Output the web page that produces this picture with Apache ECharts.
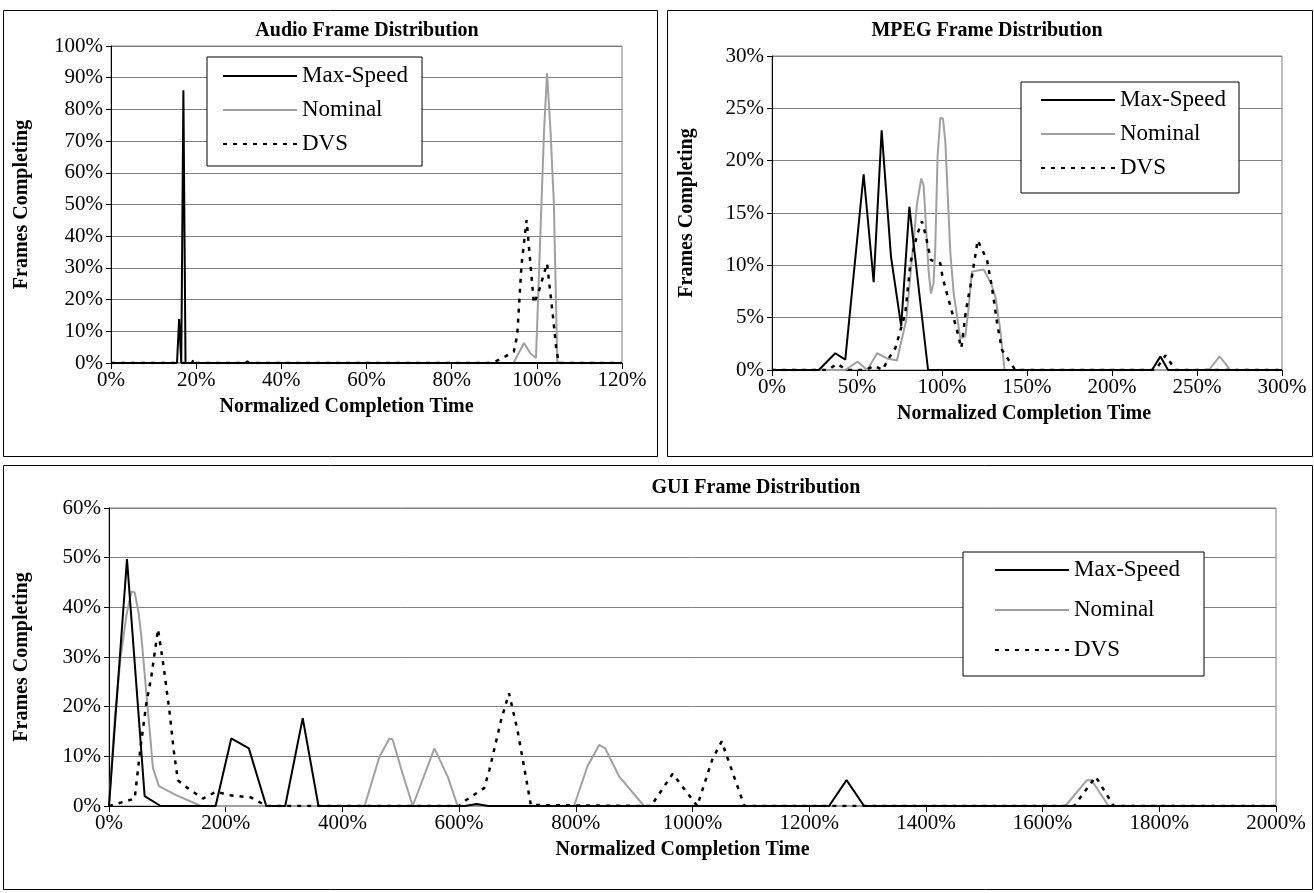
<!DOCTYPE html>
<html>
<head>
<meta charset="utf-8">
<script src="https://cdn.jsdelivr.net/npm/echarts@6/dist/echarts.min.js"></script>
<style>
  body { margin: 0; background: #fff; }
  #main { width: 1314px; height: 893px; }
</style>
</head>
<body>
<div id="main"></div>
<script>
// Audio (x = normalized completion time %, y = frames completing %)
var audioMaxX = [0, 15.5, 16, 16.5, 17, 17.5, 31.5, 32, 32.5, 120];
var audioMaxY = [0, 0, 13.9, 0, 86, 0, 0, 0.5, 0, 0];
var audioNomX = [0, 94.5, 97, 98.5, 99.8, 101.7, 102.4, 103.2, 104, 104.8, 105.5, 120];
var audioNomY = [0, 0, 6.3, 3, 1.6, 73.5, 91.4, 73.5, 50.4, 0.5, 0, 0];
var audioDvsX = [0, 19, 19.5, 20, 89.5, 92.5, 94.6, 95.4, 96.4, 97.6, 99.3, 100.3, 102.4, 103.8, 104.6, 105.2, 120];
var audioDvsY = [0, 0, 1.3, 0, 0, 2, 3.6, 8.8, 31, 45.1, 18.8, 21.9, 31.4, 14.6, 4, 0, 0];

// MPEG
var mpegMaxX = [0, 27.5, 37.2, 43.1, 53.9, 59.8, 64.5, 70, 76, 80.8, 91.8, 223.5, 228.5, 233, 300];
var mpegMaxY = [0, 0, 1.6, 1, 18.7, 8.4, 22.9, 10.8, 4.2, 15.6, 0, 0, 1.3, 0, 0];
var mpegNomX = [0, 43, 50.4, 56, 61.8, 67.7, 73.5, 79, 85.3, 87.8, 89.2, 92.1, 93.5, 95, 96, 97.4, 99, 100.6, 102,
  104.9, 106.9, 110.8, 113.7, 115.7, 117.6, 124.5, 128.8, 131.4, 134.3, 136.8, 257, 263.3, 269.6, 300];
var mpegNomY = [0, 0, 0.8, 0, 1.6, 1.1, 0.9, 4.8, 15.9, 18.3, 17.6, 9.5, 7.3, 8.3, 11.4, 20.4, 24.1, 24, 21.7,
  11.2, 7.3, 3, 3.2, 6, 9.4, 9.6, 8.3, 7, 3.8, 0, 0, 1.3, 0, 0];
var mpegDvsX = [0, 33, 38.2, 44, 55, 60, 65, 68.6, 72.6, 74.5, 78.4, 81.4, 85.3, 88.2, 90.2, 93.5, 99, 100.4,
  108.8, 111.4, 114, 117, 121, 126.5, 129.4, 132.4, 135.3, 143.1, 225.5, 231.5, 237.3, 300];
var mpegDvsY = [0, 0, 0.6, 0, 0, 0.4, 0, 1.1, 2.1, 3.2, 5.4, 10.2, 12.9, 14.2, 13, 10.5, 10.2, 8.8,
  3.8, 2.1, 5.6, 8.3, 12.4, 10.5, 7.9, 4.5, 1.9, 0, 0, 1.4, 0, 0];

// GUI
var guiMaxX = [0, 30.8, 61.1, 88.5, 182.7, 209.5, 239.7, 269.5, 302, 332, 359, 610, 630, 650, 1234, 1264, 1294, 2000];
var guiMaxY = [0, 49.7, 2, 0, 0, 13.6, 11.6, 0, 0, 17.7, 0, 0, 0.4, 0, 0, 5.2, 0, 0];
var guiNomX = [0, 10, 20, 30, 38.4, 44, 50.9, 55.5, 64, 69.7, 75.3, 85.6, 115, 158, 438, 463.5, 480.6, 486, 503, 520.5,
  557.7, 580.5, 597.6, 797, 820, 840, 850.5, 874.5, 917, 1639, 1676, 1684, 1713, 2000];
var guiNomY = [0, 18, 30, 38.5, 43.2, 43, 38.8, 34.1, 22.7, 15.3, 7.6, 4, 2.2, 0, 0, 9.9, 13.6, 13.4, 6.6, 0,
  11.6, 5.9, 0, 0, 8, 12.3, 11.6, 5.9, 0, 0, 5.2, 5.2, 0, 0];
var guiDvsX = [0, 21, 44, 53.8, 64, 72.6, 84, 93.7, 104, 110.8, 118, 132.5, 161, 184, 204, 244, 269.5, 600, 612, 643,
  652, 672, 685.5, 700, 723, 929, 966, 1008, 1034, 1050, 1089, 1654, 1691, 1722, 2000];
var guiDvsY = [0, 0.7, 1.5, 11.6, 20.7, 26.1, 35.6, 28, 18.7, 11.3, 5.2, 3.8, 1.5, 2.9, 2.2, 1.7, 0, 0, 1.2, 3.6,
  7.3, 17.3, 22.7, 15.3, 0.2, 0, 6.5, 0, 9.4, 13, 0, 0, 5.9, 0, 0];

var seriesNames = ["Max-Speed", "Nominal", "DVS"];
var titles = ["Audio Frame Distribution", "MPEG Frame Distribution", "GUI Frame Distribution"];

var serif = "Liberation Serif";
var gridColor = "#808080";

function pairs(xs, ys) {
  return xs.map(function (x, i) { return [x, ys[i]]; });
}

function pct(v) {
  return v + "%";
}

var lineStyles = {
  "Max-Speed": { color: "#000", width: 2, type: "solid" },
  "Nominal": { color: "#a0a0a0", width: 2, type: "solid" },
  "DVS": { color: "#000", width: 2.5, type: [4, 6] }
};

function line(name, xs, ys, idx) {
  return {
    name: name,
    type: "line",
    xAxisIndex: idx,
    yAxisIndex: idx,
    data: pairs(xs, ys),
    symbol: "none",
    color: lineStyles[name].color,
    lineStyle: lineStyles[name],
    z: name === "Nominal" ? 2 : 3
  };
}

function xAxis(idx, max, interval, namePad) {
  return {
    type: "value", gridIndex: idx, min: 0, max: max, interval: interval,
    name: "Normalized Completion Time", nameLocation: "middle", nameGap: 34,
    nameTextStyle: { fontFamily: serif, fontWeight: "bold", fontSize: 20, color: "#000", padding: namePad },
    axisLine: { lineStyle: { color: "#000", width: 1 } },
    axisTick: { show: true, inside: false, length: 6, lineStyle: { color: "#000" } },
    axisLabel: { formatter: pct, fontFamily: serif, fontSize: 21, color: "#000", margin: 7 },
    splitLine: { show: false }
  };
}

function yAxis(idx, max, interval, gap) {
  return {
    type: "value", gridIndex: idx, min: 0, max: max, interval: interval,
    name: "Frames Completing", nameLocation: "middle", nameGap: gap,
    nameTextStyle: { fontFamily: serif, fontWeight: "bold", fontSize: 20, color: "#000" },
    axisLine: { show: true, lineStyle: { color: "#000", width: 1 } },
    axisTick: { show: true, inside: false, length: 5, lineStyle: { color: "#000" } },
    axisLabel: { formatter: pct, fontFamily: serif, fontSize: 21, color: "#000", margin: 8 },
    splitLine: { show: true, lineStyle: { color: gridColor, width: 1 } }
  };
}

function legend(left, top, padding, gap) {
  return {
    data: seriesNames, orient: "vertical", left: left, top: top,
    backgroundColor: "#fff", borderColor: "#000", borderWidth: 1, borderRadius: 0,
    padding: padding, itemGap: gap, itemWidth: 74, itemHeight: 14,
    selectedMode: false,
    itemStyle: { opacity: 0 },
    textStyle: { fontFamily: serif, fontSize: 23, color: "#000", lineHeight: 24 }
  };
}

function gridBox(left, top, width, height) {
  return { left: left, top: top, width: width, height: height, show: true,
    borderColor: gridColor, borderWidth: 1, backgroundColor: "#fff" };
}

function panel(x, y, w, h) {
  return { type: "rect", shape: { x: x, y: y, width: w, height: h },
    style: { fill: null, stroke: "#000", lineWidth: 1 }, z: -1 };
}

var chart = echarts.init(document.getElementById("main"), null, { renderer: "canvas" });

chart.setOption({
  animation: false,
  backgroundColor: "#fff",
  graphic: [
    panel(3.5, 10.5, 654, 446),
    panel(667.5, 10.5, 645, 446),
    panel(3.5, 465.5, 1309, 424)
  ],
  title: [
    { text: titles[0], left: 362, top: 16, textAlign: "center",
      textStyle: { fontFamily: serif, fontWeight: "bold", fontSize: 20, color: "#000" } },
    { text: titles[1], left: 982, top: 16, textAlign: "center",
      textStyle: { fontFamily: serif, fontWeight: "bold", fontSize: 20, color: "#000" } },
    { text: titles[2], left: 751, top: 473, textAlign: "center",
      textStyle: { fontFamily: serif, fontWeight: "bold", fontSize: 20, color: "#000" } }
  ],
  legend: [
    legend(207, 57, [7, 14, 10, 15], 10),
    legend(1021, 82, [6, 13, 13, 19], 10),
    legend(963, 552, [6, 24, 14, 31], 16)
  ],
  grid: [
    gridBox(111, 46, 511, 317),
    gridBox(772, 56, 510, 314),
    gridBox(109, 508, 1167, 298)
  ],
  xAxis: [
    xAxis(0, 120, 20, [0, 40, 0, 0]),
    xAxis(1, 300, 50, [0, 6, 0, 0]),
    xAxis(2, 2000, 200, [0, 20, 0, 0])
  ],
  yAxis: [
    yAxis(0, 100, 10, 79),
    yAxis(1, 30, 5, 75),
    yAxis(2, 60, 10, 77)
  ],
  series: [
    line("Nominal", audioNomX, audioNomY, 0),
    line("Max-Speed", audioMaxX, audioMaxY, 0),
    line("DVS", audioDvsX, audioDvsY, 0),
    line("Nominal", mpegNomX, mpegNomY, 1),
    line("Max-Speed", mpegMaxX, mpegMaxY, 1),
    line("DVS", mpegDvsX, mpegDvsY, 1),
    line("Nominal", guiNomX, guiNomY, 2),
    line("Max-Speed", guiMaxX, guiMaxY, 2),
    line("DVS", guiDvsX, guiDvsY, 2)
  ]
});
</script>
</body>
</html>
